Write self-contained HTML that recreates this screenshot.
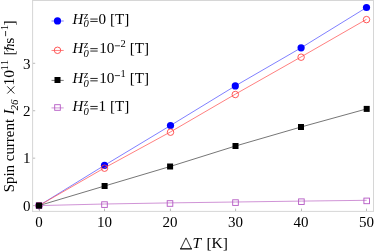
<!DOCTYPE html>
<html>
<head>
<meta charset="utf-8">
<style>
html,body{margin:0;padding:0;background:#fff;}
body{width:374px;height:252px;overflow:hidden;font-family:"Liberation Serif",serif;}
svg{display:block;will-change:transform;}
text{font-family:"Liberation Serif",serif;fill:#000;}
.i{font-style:italic;}
</style>
</head>
<body>
<svg width="374" height="252" viewBox="0 0 374 252">
<rect x="0" y="0" width="374" height="252" fill="#fff"/>

<g stroke="#d6d6d6" stroke-width="1" fill="none">
<line x1="32.6" y1="0" x2="32.6" y2="211.6"/>
<line x1="373.5" y1="0" x2="373.5" y2="211.6"/>
<line x1="32" y1="0.5" x2="374" y2="0.5"/>
<line x1="32" y1="211.4" x2="374" y2="211.4"/>
</g>
<g stroke="#777777" stroke-width="0.5" fill="none">
<line x1="39.40" y1="211" x2="39.40" y2="208.6"/>
<line x1="104.50" y1="211" x2="104.50" y2="208.6"/>
<line x1="170.40" y1="211" x2="170.40" y2="208.6"/>
<line x1="235.60" y1="211" x2="235.60" y2="208.6"/>
<line x1="301.50" y1="211" x2="301.50" y2="208.6"/>
<line x1="366.50" y1="211" x2="366.50" y2="208.6"/>
<line x1="33" y1="205.60" x2="35.2" y2="205.60"/>
<line x1="33" y1="158.17" x2="35.2" y2="158.17"/>
<line x1="33" y1="110.74" x2="35.2" y2="110.74"/>
<line x1="33" y1="63.31" x2="35.2" y2="63.31"/>
</g>
<polyline fill="none" stroke="#5555ff" stroke-width="0.75" points="39.0,205.6 104.5,165.3 170.5,125.5 235.3,85.9 301.1,47.8 366.5,7.5"/>
<circle cx="39.0" cy="205.6" r="3.6" fill="#0000ff"/>
<circle cx="104.5" cy="165.3" r="3.6" fill="#0000ff"/>
<circle cx="170.5" cy="125.5" r="3.6" fill="#0000ff"/>
<circle cx="235.3" cy="85.9" r="3.6" fill="#0000ff"/>
<circle cx="301.1" cy="47.8" r="3.6" fill="#0000ff"/>
<circle cx="366.5" cy="7.5" r="3.6" fill="#0000ff"/>
<polyline fill="none" stroke="#ff5555" stroke-width="0.75" points="39.0,205.6 104.5,167.9 170.5,131.9 235.3,94.2 301.1,56.9 366.5,19.3"/>
<circle cx="39.0" cy="205.6" r="3.25" fill="none" stroke="#ff3c3c" stroke-width="0.85"/>
<circle cx="104.5" cy="168.2" r="3.25" fill="none" stroke="#ff3c3c" stroke-width="0.85"/>
<circle cx="170.5" cy="132.2" r="3.25" fill="none" stroke="#ff3c3c" stroke-width="0.85"/>
<circle cx="235.3" cy="94.5" r="3.25" fill="none" stroke="#ff3c3c" stroke-width="0.85"/>
<circle cx="301.1" cy="57.2" r="3.25" fill="none" stroke="#ff3c3c" stroke-width="0.85"/>
<circle cx="366.5" cy="19.6" r="3.25" fill="none" stroke="#ff3c3c" stroke-width="0.85"/>
<polyline fill="none" stroke="#c070c8" stroke-width="0.75" points="39.0,205.6 104.5,204.0 170.0,202.9 235.5,202.0 301.4,201.1 366.7,200.3"/>
<rect x="36.2" y="202.8" width="5.6" height="5.6" fill="none" stroke="#b458c3" stroke-width="0.9"/>
<rect x="101.7" y="201.8" width="5.6" height="5.6" fill="none" stroke="#b458c3" stroke-width="0.9"/>
<rect x="167.2" y="200.7" width="5.6" height="5.6" fill="none" stroke="#b458c3" stroke-width="0.9"/>
<rect x="232.7" y="199.8" width="5.6" height="5.6" fill="none" stroke="#b458c3" stroke-width="0.9"/>
<rect x="298.6" y="198.9" width="5.6" height="5.6" fill="none" stroke="#b458c3" stroke-width="0.9"/>
<rect x="363.9" y="198.1" width="5.6" height="5.6" fill="none" stroke="#b458c3" stroke-width="0.9"/>
<polyline fill="none" stroke="#484848" stroke-width="0.75" points="39.0,205.6 104.6,186.0 170.1,166.5 235.5,146.0 301.0,127.0 366.7,108.9"/>
<rect x="36.0" y="202.6" width="6" height="6" fill="#000000"/>
<rect x="101.6" y="183.0" width="6" height="6" fill="#000000"/>
<rect x="167.1" y="163.5" width="6" height="6" fill="#000000"/>
<rect x="232.5" y="143.0" width="6" height="6" fill="#000000"/>
<rect x="298.0" y="124.0" width="6" height="6" fill="#000000"/>
<rect x="363.7" y="105.9" width="6" height="6" fill="#000000"/>
<line x1="51.5" y1="21.00" x2="63.7" y2="21.00" stroke="#5555ff" stroke-width="0.75"/>
<line x1="51.5" y1="50.45" x2="63.7" y2="50.45" stroke="#ff5555" stroke-width="0.75"/>
<line x1="51.5" y1="80.40" x2="63.7" y2="80.40" stroke="#484848" stroke-width="0.75"/>
<line x1="51.5" y1="107.90" x2="63.7" y2="107.90" stroke="#c070c8" stroke-width="0.75"/>
<circle cx="57.5" cy="20.9" r="3.6" fill="#0000ff"/>
<circle cx="57.5" cy="50.3" r="3.25" fill="none" stroke="#ff3c3c" stroke-width="0.85"/>
<rect x="54.5" y="77.0" width="6" height="6" fill="#000000"/>
<rect x="54.7" y="104.7" width="5.6" height="5.6" fill="none" stroke="#b458c3" stroke-width="0.9"/>
<g transform="translate(72.50,23.60)  scale(1.07,1)"><text class="i" font-size="14px" x="0" y="0">H</text></g>
<g transform="translate(84.00,18.60)  scale(1.07,1)"><text class="i" font-size="10px" x="0" y="0">z</text></g>
<g transform="translate(83.60,27.20)  scale(1.07,1)"><text class="i" font-size="10px" x="0" y="0">0</text></g>
<line x1="90.30" y1="19.05" x2="97.70" y2="19.05" stroke="#000" stroke-width="0.85"/><line x1="90.30" y1="21.45" x2="97.70" y2="21.45" stroke="#000" stroke-width="0.85"/>
<g transform="translate(98.60,23.60)  scale(1.08,1)"><text font-size="14px" x="0" y="0">0 [T]</text></g>
<g transform="translate(72.50,53.20)  scale(1.07,1)"><text class="i" font-size="14px" x="0" y="0">H</text></g>
<g transform="translate(84.00,48.20)  scale(1.07,1)"><text class="i" font-size="10px" x="0" y="0">z</text></g>
<g transform="translate(83.60,56.80)  scale(1.07,1)"><text class="i" font-size="10px" x="0" y="0">0</text></g>
<line x1="90.30" y1="48.65" x2="97.70" y2="48.65" stroke="#000" stroke-width="0.85"/><line x1="90.30" y1="51.05" x2="97.70" y2="51.05" stroke="#000" stroke-width="0.85"/>
<g transform="translate(99.20,53.20)  scale(1.09,1)"><text font-size="14px" x="0" y="0">10</text></g>
<line x1="114.80" y1="45.80" x2="120.00" y2="45.80" stroke="#000" stroke-width="0.75"/>
<g transform="translate(120.60,47.00)  scale(1.05,1)"><text font-size="10px" x="0" y="0">2</text></g>
<g transform="translate(129.80,53.20)  scale(1.08,1)"><text font-size="14px" x="0" y="0">[T]</text></g>
<g transform="translate(72.50,83.00)  scale(1.07,1)"><text class="i" font-size="14px" x="0" y="0">H</text></g>
<g transform="translate(84.00,78.00)  scale(1.07,1)"><text class="i" font-size="10px" x="0" y="0">z</text></g>
<g transform="translate(83.60,86.60)  scale(1.07,1)"><text class="i" font-size="10px" x="0" y="0">0</text></g>
<line x1="90.30" y1="78.45" x2="97.70" y2="78.45" stroke="#000" stroke-width="0.85"/><line x1="90.30" y1="80.85" x2="97.70" y2="80.85" stroke="#000" stroke-width="0.85"/>
<g transform="translate(99.20,83.00)  scale(1.09,1)"><text font-size="14px" x="0" y="0">10</text></g>
<line x1="114.80" y1="75.60" x2="120.00" y2="75.60" stroke="#000" stroke-width="0.75"/>
<g transform="translate(120.60,76.80)  scale(1.05,1)"><text font-size="10px" x="0" y="0">1</text></g>
<g transform="translate(129.80,83.00)  scale(1.08,1)"><text font-size="14px" x="0" y="0">[T]</text></g>
<g transform="translate(72.50,111.00)  scale(1.07,1)"><text class="i" font-size="14px" x="0" y="0">H</text></g>
<g transform="translate(84.00,106.00)  scale(1.07,1)"><text class="i" font-size="10px" x="0" y="0">z</text></g>
<g transform="translate(83.60,114.60)  scale(1.07,1)"><text class="i" font-size="10px" x="0" y="0">0</text></g>
<line x1="90.30" y1="106.45" x2="97.70" y2="106.45" stroke="#000" stroke-width="0.85"/><line x1="90.30" y1="108.85" x2="97.70" y2="108.85" stroke="#000" stroke-width="0.85"/>
<g transform="translate(98.60,111.00)  scale(1.08,1)"><text font-size="14px" x="0" y="0">1 [T]</text></g>
<g transform="translate(39.00,227.40)  scale(1,1)"><text text-anchor="middle" font-size="15px" x="0" y="0">0</text></g>
<g transform="translate(104.50,227.40)  scale(1,1)"><text text-anchor="middle" font-size="15px" x="0" y="0">10</text></g>
<g transform="translate(170.00,227.40)  scale(1,1)"><text text-anchor="middle" font-size="15px" x="0" y="0">20</text></g>
<g transform="translate(235.50,227.40)  scale(1,1)"><text text-anchor="middle" font-size="15px" x="0" y="0">30</text></g>
<g transform="translate(301.00,227.40)  scale(1,1)"><text text-anchor="middle" font-size="15px" x="0" y="0">40</text></g>
<g transform="translate(366.50,227.40)  scale(1,1)"><text text-anchor="middle" font-size="15px" x="0" y="0">50</text></g>
<g transform="translate(30.60,210.60)  scale(1,1)"><text text-anchor="end" font-size="15px" x="0" y="0">0</text></g>
<g transform="translate(30.60,162.90)  scale(1,1)"><text text-anchor="end" font-size="15px" x="0" y="0">1</text></g>
<g transform="translate(30.60,115.90)  scale(1,1)"><text text-anchor="end" font-size="15px" x="0" y="0">2</text></g>
<g transform="translate(30.60,69.20)  scale(1,1)"><text text-anchor="end" font-size="15px" x="0" y="0">3</text></g>
<path d="M180.7,248.8 L186.0,237.9 L191.3,248.8" fill="none" stroke="#000" stroke-width="0.8"/>
<line x1="180.1" y1="248.85" x2="191.9" y2="248.85" stroke="#000" stroke-width="1.3"/>
<g transform="translate(192.60,248.40)  scale(1.07,1)"><text class="i" font-size="14.5px" x="0" y="0">T</text></g>
<g transform="translate(206.40,248.40)  scale(1.07,1)"><text font-size="14.5px" x="0" y="0">[K]</text></g>
<g transform="translate(14.30,192.30) rotate(-90) scale(1.03,1)"><text font-size="14.5px" x="0" y="0">Spin current</text></g>
<g transform="translate(14.30,114.60) rotate(-90) scale(1.05,1)"><text class="i" font-size="14.5px" x="0" y="0">I</text></g>
<g transform="translate(17.80,110.40) rotate(-90) scale(1.0,1)"><text class="i" font-size="11px" x="0" y="0">26</text></g>
<path d="M7.3,86.4 L14.3,93.5 M14.3,86.4 L7.3,93.5" stroke="#000" stroke-width="0.85" fill="none"/>
<g transform="translate(13.80,85.50) rotate(-90) scale(1.07,1)"><text font-size="14.5px" x="0" y="0">10</text></g>
<g transform="translate(8.20,70.40) rotate(-90) scale(1.0,1)"><text font-size="11px" x="0" y="0">11</text></g>
<g transform="translate(13.80,55.40) rotate(-90) scale(1.06,1)"><text font-size="14.5px" x="0" y="0">[</text></g>
<g transform="translate(13.80,50.80) rotate(-90) scale(1.0,1)"><text class="i" font-size="14.5px" x="0" y="0">h</text></g>
<line x1="7.9" y1="51.6" x2="4.6" y2="46.4" stroke="#000" stroke-width="0.75"/>
<g transform="translate(13.80,43.70) rotate(-90) scale(1.08,1)"><text font-size="14.5px" x="0" y="0">s</text></g>
<line x1="5.6" y1="31.0" x2="5.6" y2="36.2" stroke="#000" stroke-width="0.8"/>
<g transform="translate(8.20,30.20) rotate(-90) scale(1.0,1)"><text font-size="11px" x="0" y="0">1</text></g>
<g transform="translate(13.80,25.40) rotate(-90) scale(1.06,1)"><text font-size="14.5px" x="0" y="0">]</text></g>
</svg>
</body>
</html>
